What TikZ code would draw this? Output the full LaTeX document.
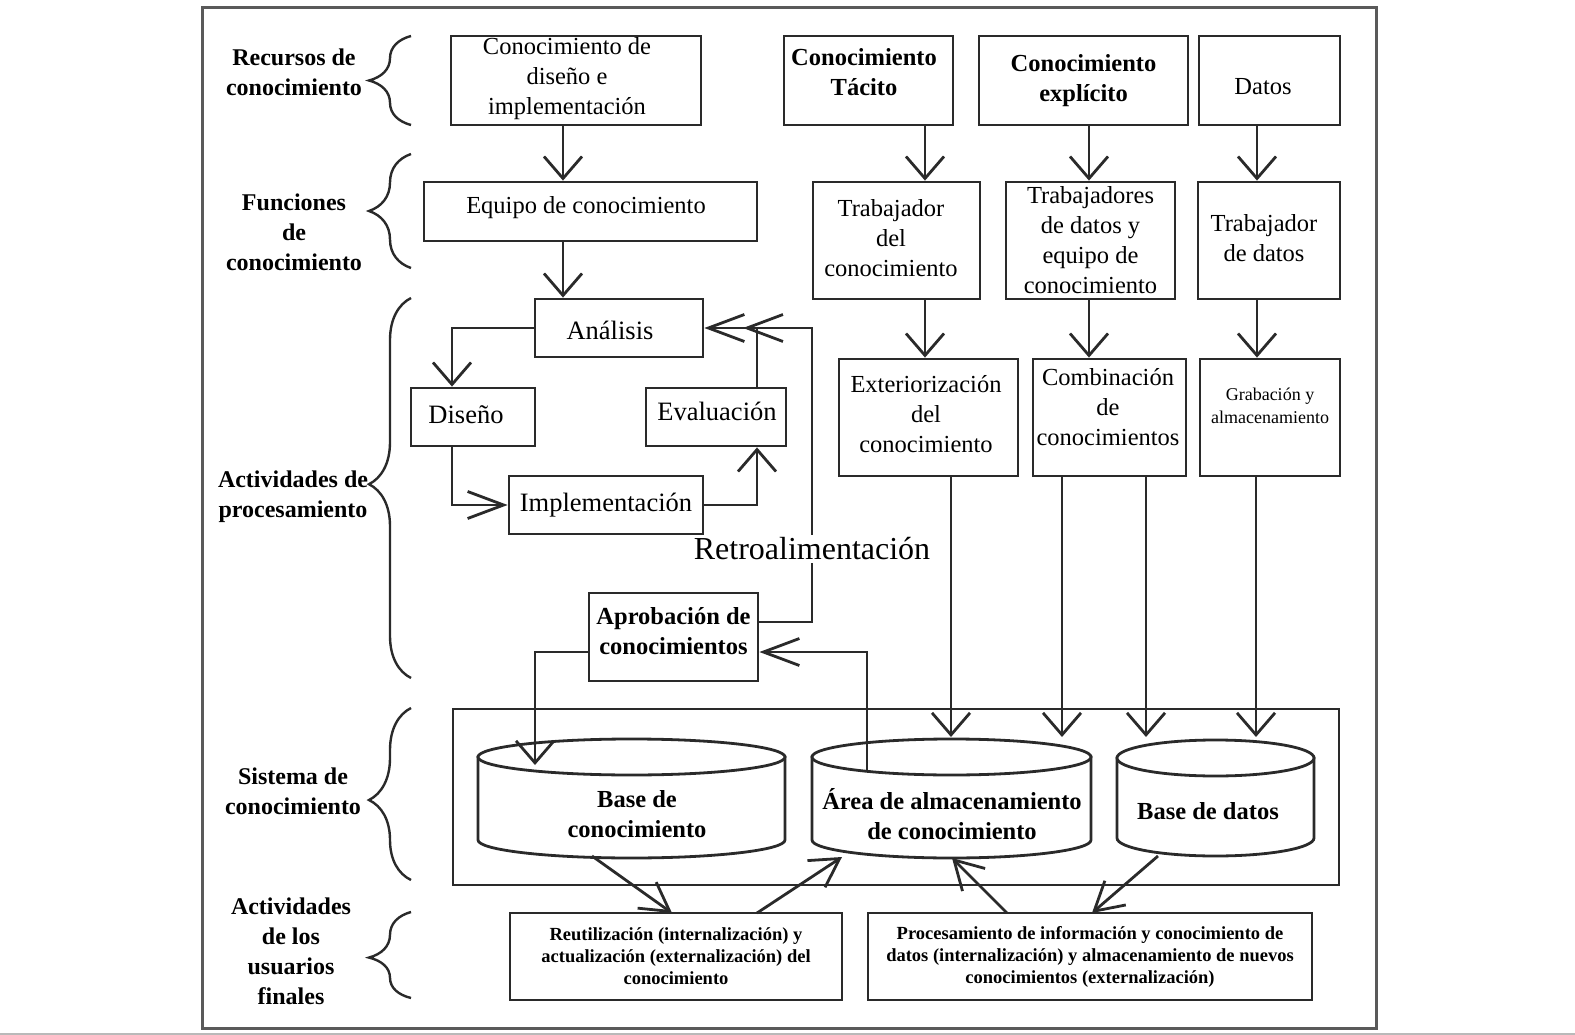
\documentclass[tikz,border=0pt]{standalone}
\usepackage{fontspec}
\setmainfont{Liberation Serif}
\usetikzlibrary{arrows.meta,decorations.pathreplacing,calc}
\definecolor{lc}{HTML}{2A2A2A}
\definecolor{fc}{HTML}{5A5A5A}
\begin{document}
\begin{tikzpicture}[x=1pt,y=-1pt,
  box/.style={draw=lc, line width=2.8pt, fill=white, align=center, inner sep=0pt, font=\fontsize{24.5}{30}\selectfont},
  bbox/.style={box, font=\fontsize{24.5}{30}\selectfont\bfseries},
  cbox/.style={box, font=\fontsize{26.5}{30}\selectfont},
  sbox/.style={box, font=\fontsize{18.5}{22}\selectfont\bfseries},
  tx/.style={align=center, inner sep=0pt, font=\fontsize{24.5}{30}\selectfont},
  btx/.style={tx, font=\fontsize{24.5}{30}\selectfont\bfseries},
  lab/.style={align=center, inner sep=0pt, font=\fontsize{24}{30}\selectfont\bfseries},
  con/.style={draw=lc, line width=2.8pt},
  va/.style={con, -{Straight Barb[length=22pt,width=38pt]}},
  ha/.style={con, -{Straight Barb[length=36pt,width=27pt]}},
  da/.style={con, -{Straight Barb[length=28pt,width=32pt]}},
  brc/.style={draw=lc, line width=2.4pt, decorate, decoration={brace, amplitude=42pt, aspect=#1}},
  cyl/.style={draw=lc, line width=2.8pt, fill=white},
]
\useasboundingbox (0,0) rectangle (1575,1035);
% outer frame
\node[draw=fc, line width=3pt, minimum width=1174pt, minimum height=1020pt, inner sep=0pt] (frame) at (789,518) {};
\draw[gray!55, line width=2pt] (0,1033.5) -- (1575,1033.5);

% left labels and braces
\node[lab] (l1) at (294,72) {Recursos de\\conocimiento};
\node[lab] (l2) at (294,232) {Funciones\\de\\conocimiento};
\node[lab] (l3) at (293,497) {Actividades de\\procesamiento};
\node[lab] (l4) at (293,791) {Sistema de\\conocimiento};
\node[lab] (l5) at (291,951) {Actividades\\de los\\usuarios\\finales};
\draw[brc=0.5] (411,125) -- (411,36);
\draw[brc=0.5] (411,268) -- (411,154);
\draw[brc=0.51] (411,678) -- (411,298);
\draw[brc=0.465] (411,880) -- (411,708);
\draw[brc=0.47] (411,998) -- (411,912);

% top row
\node[box, minimum width=250pt, minimum height=89pt] (b1) at (576,80.5) {};
\node[tx] (b1T) at (567,79) {Conocimiento de\\diseño e\\implementación};
\node[box, minimum width=169pt, minimum height=89pt] (tac) at (868.5,80.5) {};
\node[btx] (tacT) at (864,72) {Conocimiento\\Tácito};
\node[bbox, minimum width=209pt, minimum height=89pt] (exp) at (1083.5,80.5) {Conocimiento\\explícito};
\node[box, minimum width=141pt, minimum height=89pt] (dat) at (1269.5,80.5) {};
\node[tx] (datT) at (1263,87) {Datos};

% second row
\node[box, minimum width=333pt, minimum height=59pt] (eq) at (590.5,211.5) {};
\node[tx] (eqT) at (586,208) {Equipo de conocimiento};
\node[box, minimum width=167pt, minimum height=117pt] (tdc) at (896.5,240.5) {};
\node[tx] (tdcT) at (891,238) {Trabajador\\del\\conocimiento};
\node[box, minimum width=169pt, minimum height=117pt] (tdd) at (1090.5,240.5) {Trabajadores\\de datos y\\equipo de\\conocimiento};
\node[box, minimum width=142pt, minimum height=117pt] (tda) at (1269,240.5) {};
\node[tx] (tdaT) at (1264,238) {Trabajador\\de datos};

% processing cycle
\node[cbox, minimum width=168pt, minimum height=58pt] (an) at (619,328) {};
\node[tx, font=\fontsize{26.5}{30}\selectfont] (anT) at (610,330) {Análisis};
\node[cbox, minimum width=124pt, minimum height=58pt] (dis) at (473,417) {};
\node[tx, font=\fontsize{26.5}{30}\selectfont] (disT) at (466,415) {Diseño};
\node[cbox, minimum width=140pt, minimum height=58pt] (ev) at (716,417) {};
\node[tx, font=\fontsize{26.5}{30}\selectfont] (evT) at (717,411) {Evaluación};
\node[cbox, minimum width=194pt, minimum height=58pt] (imp) at (606,505) {Implementación};

% third row right
\node[box, minimum width=179pt, minimum height=117pt] (ext) at (928.5,417.5) {};
\node[tx] (extT) at (926,414) {Exteriorización\\del\\conocimiento};
\node[box, minimum width=153pt, minimum height=117pt] (com) at (1109.5,417.5) {};
\node[tx] (comT) at (1108,407) {Combinación\\de\\conocimientos};
\node[box, minimum width=140pt, minimum height=117pt] (gra) at (1270,417.5) {};
\node[tx, font=\fontsize{18}{23}\selectfont] (graT) at (1270,406) {Grabación y\\almacenamiento};

% approval
\node[box, minimum width=169pt, minimum height=88pt] (apr) at (673.5,637) {};
\node[btx] (aprT) at (673.5,631) {Aprobación de\\conocimientos};

% knowledge system
\node[draw=lc, line width=2.8pt, minimum width=886pt, minimum height=176pt, inner sep=0pt] (sys) at (896,797) {};
% cylinders
\draw[cyl] (478,757) -- (478,840) arc[start angle=180, end angle=0, x radius=153.5, y radius=18] -- (785,757) -- cycle;
\draw[cyl] (631.5,757) ellipse [x radius=153.5, y radius=18];
\draw[cyl] (812,757) -- (812,840) arc[start angle=180, end angle=0, x radius=139.5, y radius=18] -- (1091,757) -- cycle;
\draw[cyl] (951.5,757) ellipse [x radius=139.5, y radius=18];
\draw[cyl] (1117,758) -- (1117,838) arc[start angle=180, end angle=0, x radius=98.5, y radius=18] -- (1314,758) -- cycle;
\draw[cyl] (1215.5,758) ellipse [x radius=98.5, y radius=18];
\node[btx] (bc) at (637,814) {Base de\\conocimiento};
\node[btx] (ar) at (952,814) {Área de almacenamiento\\de conocimiento};
\node[btx] (bd) at (1208,811) {Base de datos};

% end-user activities
\node[sbox, minimum width=332pt, minimum height=87pt] (reu) at (676,956.5) {Reutilización (internalización) y\\actualización (externalización) del\\conocimiento};
\node[sbox, minimum width=444pt, minimum height=87pt] (pro) at (1090,956.5) {Procesamiento de información y conocimiento de\\datos (internalización) y almacenamiento de nuevos\\conocimientos (externalización)};

% helper coordinates
\coordinate (k1) at (563,0);
\coordinate (k2) at (925,0);
\coordinate (k3) at (1089,0);
\coordinate (k4) at (1257,0);
\coordinate (k5) at (951,0);
\coordinate (k6) at (1062,0);
\coordinate (k7) at (1146,0);
\coordinate (k8) at (1256,0);
\coordinate (k9) at (452,0);
\coordinate (k10) at (757,0);
\coordinate (k11) at (812,0);
\coordinate (tipy) at (0,737);
\coordinate (fy1) at (0,622);
\coordinate (fy2) at (0,652);
\coordinate (fbtip) at (743,328);
\coordinate (bctip) at (535,765);
\coordinate (arst) at (867,770);
\coordinate (d1s) at (592,856);
\coordinate (d1e) at (672,913);
\coordinate (d2s) at (757,913);
\coordinate (d2e) at (842,857);
\coordinate (d3s) at (1007,913);
\coordinate (d3e) at (952,858);
\coordinate (d4s) at (1158,856);
\coordinate (d4e) at (1092,913);

% vertical flows
\draw[va] (b1.south -| k1) -- (eq.north -| k1);
\draw[va] (eq.south -| k1) -- (an.north -| k1);
\draw[va] (tac.south -| k2) -- (tdc.north -| k2);
\draw[va] (tdc.south -| k2) -- (ext.north -| k2);
\draw[va] (exp.south -| k3) -- (tdd.north -| k3);
\draw[va] (tdd.south -| k3) -- (com.north -| k3);
\draw[va] (dat.south -| k4) -- (tda.north -| k4);
\draw[va] (tda.south -| k4) -- (gra.north -| k4);
\draw[va] (ext.south -| k5) -- (k5 |- tipy);
\draw[va] (com.south -| k6) -- (k6 |- tipy);
\draw[va] (com.south -| k7) -- (k7 |- tipy);
\draw[va] (gra.south -| k8) -- (k8 |- tipy);

% cycle
\draw[va] (an.west) -| (dis.north -| k9);
\draw[ha] (dis.south -| k9) |- (imp.west);
\draw[va] (imp.east) -| (ev.south -| k10);
\draw[ha] (ev.north -| k10) |- (an.east);
\draw[ha] (apr.east |- fy1) -| (k11 |- an.east) -- (fbtip);
\node[fill=white, inner sep=3pt, font=\fontsize{32}{36}\selectfont] (retro) at (812,549) {Retroalimentación};

% approval links
\draw[va] (apr.west |- fy2) -| (bctip);
\draw[ha] (arst) |- (apr.east |- fy2);

% diagonal links
\draw[da] (d1s) -- (d1e);
\draw[da] (d2s) -- (d2e);
\draw[da] (d3s) -- (d3e);
\draw[da] (d4s) -- (d4e);
\end{tikzpicture}
\end{document}
